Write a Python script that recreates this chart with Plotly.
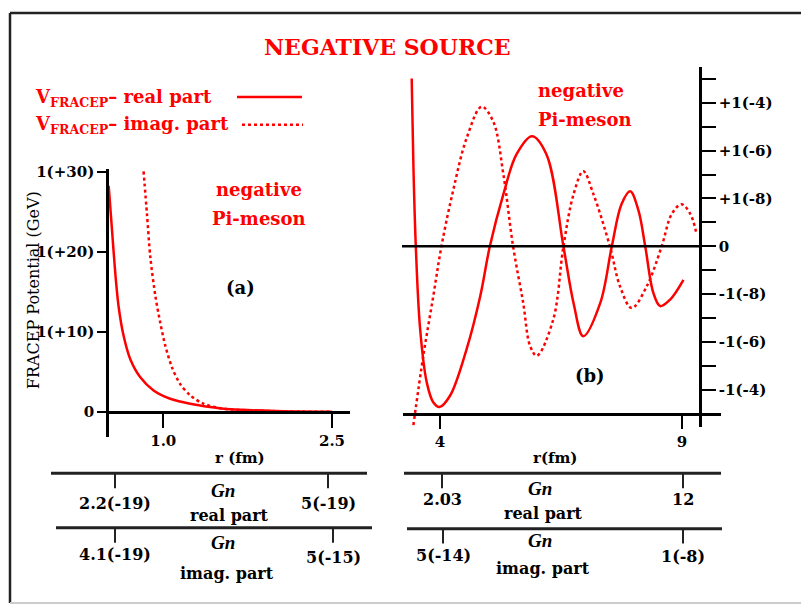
import plotly.graph_objects as go

W, H = 801, 606
RED = "#ff0000"
SERIF = "DejaVu Serif"

# ---------------- data ----------------
# panel (a): FRACEP potential, units of 1(+10) GeV
r_a_real = [0.515, 0.545, 0.574, 0.603, 0.648, 0.707, 0.796, 0.914, 1.062, 1.24, 1.417, 1.594, 2.0, 2.5]
v_a_real = [28.3, 22.7, 17.3, 13.2, 9.5, 6.6, 4.34, 2.69, 1.65, 1.03, 0.62, 0.33, 0.12, 0.02]
r_a_imag = [0.825, 0.855, 0.885, 0.93, 0.973, 1.018, 1.077, 1.15, 1.24, 1.357, 1.535, 2.0, 2.5]
v_a_imag = [30.1, 24.8, 19.4, 14.5, 11.2, 8.3, 5.6, 3.5, 2.07, 1.03, 0.41, 0.1, 0.01]
a_yticks = [0, 10, 20, 30]
a_yticktext = ["0", "1(+10)", "1(+20)", "1(+30)"]
a_xticks = [1.0, 2.5]
a_xticktext = ["1.0", "2.5"]

# panel (b): symbolic scale, 1 unit = one decade label step
r_b_real = [3.415, 3.45, 3.5, 3.59, 3.725, 3.86, 3.99, 4.21, 4.55, 4.83, 5.03, 5.31, 5.58, 5.9, 6.2,
            6.55, 6.76, 6.96, 7.31, 7.55, 7.75, 7.93, 8.1, 8.24, 8.41, 8.55, 8.75, 9.03]
v_b_real = [3.51, 1.71, 0.0, -1.74, -2.84, -3.26, -3.36, -3.12, -2.15, -1.05, 0.0, 1.09, 1.92, 2.3, 1.92,
            0.0, -1.19, -1.88, -1.19, 0.0, 0.88, 1.15, 0.75, 0.0, -0.98, -1.25, -1.12, -0.7]
r_b_imag = [3.45, 3.655, 3.86, 4.03, 4.27, 4.55, 4.86, 5.1, 5.31, 5.51, 5.72, 5.86, 6.0, 6.34, 6.55,
            6.76, 6.96, 7.17, 7.51, 7.72, 7.96, 8.27, 8.58, 8.79, 8.99, 9.17, 9.3]
v_b_imag = [-3.74, -2.29, -1.05, 0.0, 1.16, 2.26, 2.92, 2.61, 1.5, 0.0, -1.19, -2.08, -2.29, -1.53, 0.0,
            1.09, 1.57, 1.09, 0.0, -0.84, -1.29, -0.84, 0.0, 0.68, 0.88, 0.68, 0.26]
b_yticks = [3, 2, 1, 0, -1, -2, -3]
b_yticktext = ["+1(-4)", "+1(-6)", "+1(-8)", "0", "-1(-8)", "-1(-6)", "-1(-4)"]
b_yminor = [3.5, 2.5, 1.5, 0.5, -0.5, -1.5, -2.5]
b_xticks = [4, 9]
b_xticktext = ["4", "9"]

# Gn tables under the panels
gn_left_real = ["2.2(-19)", "5(-19)"]
gn_left_imag = ["4.1(-19)", "5(-15)"]
gn_right_real = ["2.03", "12"]
gn_right_imag = ["5(-14)", "1(-8)"]


def px(x):
    return x / W


def py(y):
    return 1 - y / H


fig = go.Figure()
fig.add_trace(go.Scatter(x=r_a_real, y=v_a_real, mode="lines", line=dict(color=RED, width=2.5, shape="spline", smoothing=0.8),
                         xaxis="x", yaxis="y", showlegend=False))
fig.add_trace(go.Scatter(x=r_a_imag, y=v_a_imag, mode="lines", line=dict(color=RED, width=2.5, dash="dot", shape="spline", smoothing=0.8),
                         xaxis="x", yaxis="y", showlegend=False))
fig.add_trace(go.Scatter(x=r_b_real, y=v_b_real, mode="lines", line=dict(color=RED, width=2.5, shape="spline", smoothing=1.0),
                         xaxis="x2", yaxis="y2", showlegend=False))
fig.add_trace(go.Scatter(x=r_b_imag, y=v_b_imag, mode="lines", line=dict(color=RED, width=2.5, dash="dot", shape="spline", smoothing=1.0),
                         xaxis="x2", yaxis="y2", showlegend=False))

tickfont = dict(family=SERIF, size=15, color="black", weight="bold")
axcommon = dict(showgrid=False, zeroline=False, showline=True, linecolor="black", linewidth=2.5,
                ticks="outside", tickcolor="black", tickwidth=2, tickfont=tickfont)

# panel (a) axes: 0 at y=410px, 1 unit = 8.07px ; r=1.0 at 163px, 112.7 px/fm
fig.update_layout(
    xaxis=dict(domain=[px(107), px(350)], range=[0.5, 2.66], anchor="free", position=py(410),
               tickvals=a_xticks, ticktext=a_xticktext, ticklen=14, **axcommon),
    yaxis=dict(domain=[py(435), py(165)], range=[(410 - 435) / 8.07, (410 - 165) / 8.07], anchor="free",
               position=px(107), tickvals=a_yticks, ticktext=a_yticktext, ticklen=9, **axcommon),
    xaxis2=dict(domain=[px(403), px(721)], range=[4 + (403 - 440) / 48.4, 4 + (721 - 440) / 48.4],
                anchor="free", position=py(412), tickvals=b_xticks, ticktext=b_xticktext, ticklen=13, **axcommon),
    yaxis2=dict(domain=[py(425), py(62)], range=[(242.7 - 425) / 48.3, (242.7 - 62) / 48.3], anchor="free",
                position=px(700), side="right", tickvals=b_yticks, ticktext=b_yticktext, ticklen=14,
                minor=dict(tickvals=b_yminor, ticks="outside", ticklen=14, tickwidth=2, tickcolor="black"),
                **axcommon),
)

shapes = []
# frame
shapes.append(dict(type="line", xref="paper", yref="paper", x0=px(10), x1=1.0, y0=py(7), y1=py(7),
                   line=dict(color="#222", width=2.5)))
shapes.append(dict(type="line", xref="paper", yref="paper", x0=px(10), x1=px(10), y0=py(7), y1=py(603),
                   line=dict(color="#222", width=2.5)))
shapes.append(dict(type="line", xref="paper", yref="paper", x0=px(10), x1=1.0, y0=py(603), y1=py(603),
                   line=dict(color="#cccccc", width=2)))
# zero line of panel (b)
shapes.append(dict(type="line", xref="paper", yref="y2", x0=px(402), x1=px(700), y0=0, y1=0,
                   line=dict(color="black", width=2.5)))
# legend samples
shapes.append(dict(type="line", xref="paper", yref="paper", x0=px(237), x1=px(302), y0=py(92), y1=py(92),
                   line=dict(color=RED, width=2.5)))
shapes.append(dict(type="line", xref="paper", yref="paper", x0=px(242), x1=px(303), y0=py(120), y1=py(120),
                   line=dict(color=RED, width=2.5, dash="dot")))

annotations = []


def txt(x, y, s, size=16, color="black", bold=True, family=SERIF, angle=0):
    annotations.append(dict(x=px(x), y=py(y), xref="paper", yref="paper", text=s, showarrow=False,
                            xanchor="center", yanchor="middle", textangle=angle,
                            font=dict(family=family, size=size, color=color,
                                      weight="bold" if bold else "normal")))


# Gn tables: (line y, x0, x1, tick xs, labels, label ys, Gn pos, part text pos)
tables = [
    (472, 51, 367, [115, 328], gn_left_real, [502, 502], (223, 489), "real part", (230, 515)),
    (527, 56, 372, [115, 333], gn_left_imag, [554, 557], (223, 542), "imag. part", (227, 573)),
    (472, 404, 721, [442, 683], gn_right_real, [498, 498], (540, 487), "real part", (543, 513)),
    (528, 407, 722, [443, 683], gn_right_imag, [555, 556], (540, 540), "imag. part", (543, 568)),
]
for ly, x0, x1, tks, labs, lys, gpos, part, ppos in tables:
    shapes.append(dict(type="line", xref="paper", yref="paper", x0=px(x0), x1=px(x1), y0=py(ly), y1=py(ly),
                       line=dict(color="#222", width=3)))
    for tx, lab, lyy in zip(tks, labs, lys):
        shapes.append(dict(type="line", xref="paper", yref="paper", x0=px(tx), x1=px(tx), y0=py(ly), y1=py(ly + 15),
                           line=dict(color="#222", width=2)))
        txt(tx, lyy, lab, size=16)
    txt(gpos[0], gpos[1], "<i>Gn</i>", size=19, bold=True, family="Liberation Serif")
    txt(ppos[0], ppos[1], part, size=16)

# titles and labels
txt(387, 41, "NEGATIVE SOURCE", size=22, color=RED)
annotations.append(dict(x=px(33), y=py(93), xref="paper", yref="paper", xanchor="left", yanchor="middle",
                        showarrow=False, text="V<sub>FRACEP</sub>– real part",
                        font=dict(family=SERIF, size=18, color=RED, weight="bold")))
annotations.append(dict(x=px(33), y=py(120), xref="paper", yref="paper", xanchor="left", yanchor="middle",
                        showarrow=False, text="V<sub>FRACEP</sub>– imag. part",
                        font=dict(family=SERIF, size=18, color=RED, weight="bold")))
txt(259, 185, "negative", size=18, color=RED)
txt(259, 215, "Pi-meson", size=18, color=RED)
txt(581, 85, "negative", size=18, color=RED)
txt(585, 115, "Pi-meson", size=18, color=RED)
txt(240, 284, "(a)", size=18)
txt(590, 373, "(b)", size=18)
txt(240, 457, "r (fm)", size=15)
txt(555, 457, "r(fm)", size=15)
txt(33, 287, "FRACEP Potential (GeV)", size=16, bold=False, angle=-90)

fig.update_layout(width=W, height=H, margin=dict(l=0, r=0, t=0, b=0), paper_bgcolor="white",
                  plot_bgcolor="rgba(0,0,0,0)", shapes=shapes, annotations=annotations, showlegend=False)

fig.write_html("out.html", config={"displayModeBar": False},
               post_script="document.body.style.margin='0';document.body.style.overflow='hidden';")
